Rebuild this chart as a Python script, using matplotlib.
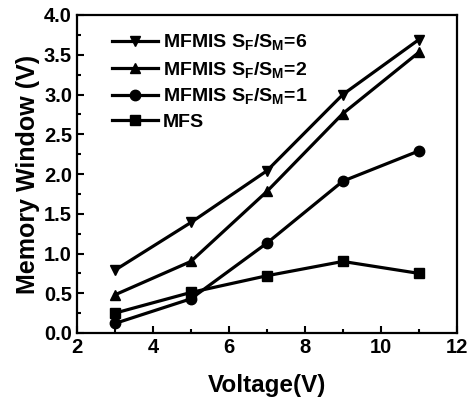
import matplotlib
matplotlib.use("Agg")
import matplotlib.pyplot as plt
from matplotlib.ticker import MultipleLocator

plt.rcParams['font.family'] = ['Liberation Sans', 'DejaVu Sans']
plt.rcParams['font.weight'] = 'bold'
plt.rcParams['mathtext.fontset'] = 'custom'
plt.rcParams['mathtext.rm'] = 'Liberation Sans:bold'
plt.rcParams['mathtext.bf'] = 'Liberation Sans:bold'
plt.rcParams['mathtext.it'] = 'Liberation Sans:bold'
plt.rcParams['mathtext.default'] = 'bf'

voltage = [3, 5, 7, 9, 11]
mfmis6 = [0.79, 1.39, 2.04, 3.00, 3.69]
mfmis2 = [0.48, 0.90, 1.78, 2.76, 3.53]
mfmis1 = [0.12, 0.43, 1.13, 1.91, 2.29]
mfs = [0.25, 0.51, 0.72, 0.90, 0.75]

labels = ['MFMIS S$_F$/S$_M$=6', 'MFMIS S$_F$/S$_M$=2', 'MFMIS S$_F$/S$_M$=1', 'MFS']
series = [mfmis6, mfmis2, mfmis1, mfs]
markers = ['v', '^', 'o', 's']

fig = plt.figure(figsize=(4.69, 4.0), dpi=100)
ax = fig.add_axes([0.164, 0.1675, 0.81, 0.795])

for y, m, lab in zip(series, markers, labels):
    ax.plot(voltage, y, color='black', marker=m, markersize=7.5, linewidth=2.3, label=lab)

ax.set_xlim(2, 12)
ax.set_ylim(0, 4.0)
ax.xaxis.set_major_locator(MultipleLocator(2))
ax.xaxis.set_minor_locator(MultipleLocator(1))
ax.yaxis.set_major_locator(MultipleLocator(0.5))
ax.yaxis.set_minor_locator(MultipleLocator(0.25))
ax.tick_params(which='both', direction='in', labelsize=14.5, width=1.5)
ax.tick_params(which='major', length=5)
ax.tick_params(which='minor', length=3)
ax.set_yticks([i * 0.5 for i in range(9)])
ax.set_yticklabels([f'{i * 0.5:.1f}' for i in range(9)])
for s in ax.spines.values():
    s.set_linewidth(1.6)

ax.set_xlabel('Voltage(V)', fontsize=17.5, fontweight='bold', labelpad=12)
ax.set_ylabel('Memory Window (V)', fontsize=18, fontweight='bold', labelpad=3)

ax.legend(loc='upper left', frameon=False, fontsize=14, handlelength=2.4,
          handletextpad=0.25, labelspacing=0.36, bbox_to_anchor=(0.045, 1.0))

fig.savefig('out.png', dpi=100)
